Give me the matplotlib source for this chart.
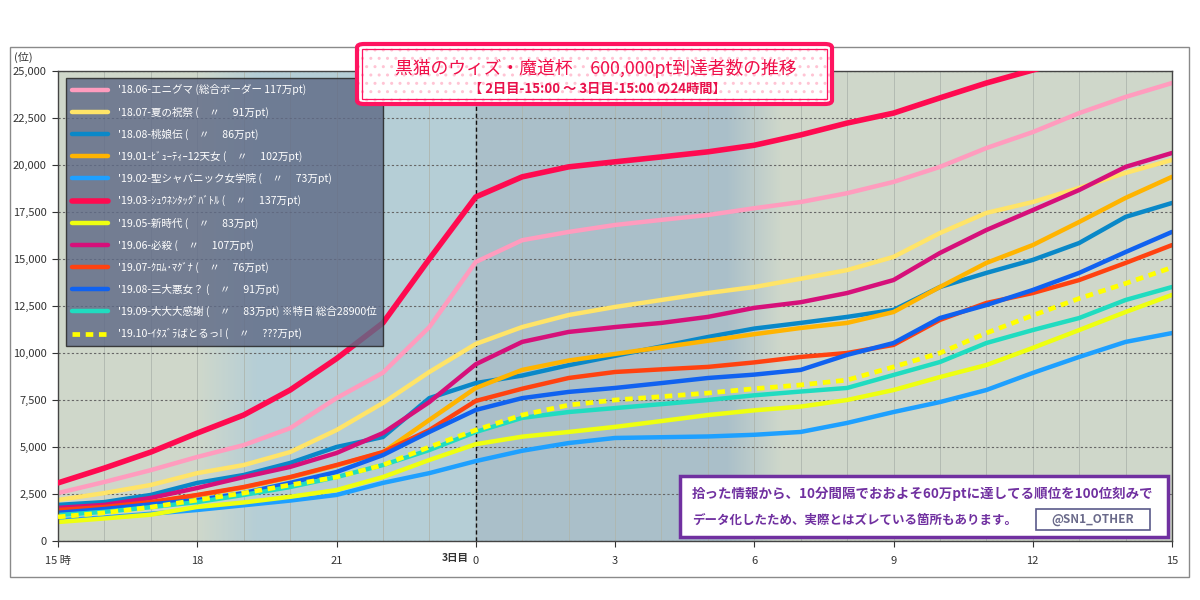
import numpy as np
import matplotlib.pyplot as plt
from matplotlib.patches import Rectangle, FancyBboxPatch
from matplotlib.ticker import MultipleLocator, FuncFormatter

plt.rcParams['font.family'] = ['Noto Sans CJK JP', 'DejaVu Sans']

# hours since 2日目 15:00
hours = list(range(25))
tick_hours = [0, 3, 6, 9, 12, 15, 18, 21, 24]
tick_labels = ['15 時', '18', '21', '0', '3', '6', '9', '12', '15']

labels = [
    "'18.06-エニグマ (総合ボーダー 117万pt)",
    "'18.07-夏の祝祭 (　〃　 91万pt)",
    "'18.08-桃娘伝 (　〃　 86万pt)",
    "'19.01-ﾋﾞｭｰﾃｨｰ12天女 (　〃　 102万pt)",
    "'19.02-聖シャバニック女学院 (　〃　 73万pt)",
    "'19.03-ｼｭｳﾈﾝﾀｯｸﾞﾊﾞﾄﾙ (　〃　 137万pt)",
    "'19.05-新時代 (　〃　 83万pt)",
    "'19.06-必殺 (　〃　 107万pt)",
    "'19.07-ｸﾛﾑ･ﾏｸﾞﾅ (　〃　 76万pt)",
    "'19.08-三大悪女？ (　〃　 91万pt)",
    "'19.09-大大大感謝 (　〃　 83万pt) ※特日 総合28900位",
    "'19.10-ｲﾀｽﾞﾗばとるっ! (　〃　 ???万pt)",
]
colors = ['#FF9CBE', '#FFE468', '#0A88C8', '#FFB400', '#1EA0FF', '#FF0A50',
          '#EEFF10', '#D6107A', '#FF4210', '#1062F0', '#20DCC0', '#FFFF00']

enigma = [2550, 3140, 3770, 4470, 5100, 6000, 7600, 8950, 11380, 14840, 16000, 16440, 16810,
          17080, 17340, 17700, 18030, 18500, 19100, 19900, 20900, 21750, 22760, 23620, 24360]
natsu = [2180, 2550, 2980, 3610, 4040, 4730, 5900, 7340, 8990, 10480, 11380, 12020, 12450,
         12820, 13190, 13510, 13950, 14410, 15110, 16380, 17450, 18030, 18780, 19580, 20270]
momo = [1920, 2070, 2450, 3090, 3510, 4150, 5000, 5530, 7600, 8400, 8800, 9350, 9850,
        10350, 10850, 11300, 11600, 11920, 12290, 13510, 14260, 14950, 15850, 17240, 17980]
beauty = [1600, 1750, 2050, 2430, 2850, 3380, 4020, 4720, 6440, 8140, 9100, 9600, 9950,
          10300, 10650, 11000, 11330, 11600, 12180, 13510, 14790, 15740, 16970, 18250, 19370]
seishaba = [1100, 1250, 1450, 1650, 1900, 2150, 2450, 3090, 3610, 4250, 4800, 5210, 5480,
            5520, 5560, 5650, 5800, 6280, 6860, 7390, 8030, 8940, 9790, 10590, 11060]
shunen = [3090, 3880, 4730, 5740, 6700, 8030, 9700, 11600, 15000, 18300, 19370, 19900, 20170,
          20430, 20700, 21050, 21600, 22230, 22760, 23570, 24360, 25050, 25700, 26300, 26800]
shinjidai = [1010, 1200, 1400, 1810, 2050, 2350, 2710, 3400, 4310, 5150, 5550, 5800, 6070,
             6380, 6700, 6950, 7150, 7500, 8030, 8720, 9360, 10270, 11220, 12180, 13090]
hissatsu = [1760, 1920, 2290, 2820, 3400, 3940, 4680, 5740, 7390, 9400, 10590, 11120, 11380,
            11600, 11920, 12400, 12700, 13190, 13880, 15320, 16540, 17600, 18670, 19900, 20640]
chrome = [1650, 1810, 2070, 2450, 2870, 3400, 4040, 4730, 5900, 7450, 8100, 8670, 8990,
          9130, 9260, 9500, 9790, 10000, 10430, 11760, 12660, 13190, 13880, 14790, 15740]
sandai = [1500, 1700, 1950, 2180, 2550, 3090, 3670, 4570, 5800, 6970, 7600, 7930, 8140,
          8400, 8670, 8850, 9100, 9900, 10530, 11860, 12550, 13350, 14260, 15370, 16440]
kansha = [1380, 1550, 1800, 2070, 2450, 2870, 3400, 4040, 4840, 5800, 6550, 6860, 7070,
          7280, 7500, 7750, 7950, 8140, 8830, 9520, 10530, 11220, 11860, 12820, 13510]
itazura = [1280, 1500, 1800, 2180, 2550, 2980, 3400, 4040, 5000, 5900, 6700, 7230, 7500,
           7680, 7870, 8100, 8300, 8560, 9260, 10000, 11060, 12000, 12900, 13700, 14550]

series = [enigma, natsu, momo, beauty, seishaba, shunen, shinjidai, hissatsu,
          chrome, sandai, kansha, itazura]

fig = plt.figure(figsize=(12, 6), dpi=100)
ax = fig.add_axes([58 / 1200, 59 / 600, 1114 / 1200, 470 / 600])

# background shading (day 2 evening / night band)
green = np.array([0.812, 0.847, 0.796])
blue1 = np.array([0.710, 0.808, 0.840])
blue2 = np.array([0.667, 0.750, 0.790])
hx = np.linspace(0, 24, 961)
bg = np.zeros((1, len(hx), 3))
for i, h in enumerate(hx):
    if h < 3.0:
        c = green
    elif h < 4.3:
        t = (h - 3.0) / 1.3
        c = green * (1 - t) + blue1 * t
    elif h < 9.0:
        c = blue1
    elif h < 14.4:
        c = blue2
    elif h < 15.6:
        t = (h - 14.4) / 1.2
        c = blue2 * (1 - t) + green * t
    else:
        c = green
    bg[0, i] = c
ax.imshow(bg, extent=[0, 24, 0, 25000], aspect='auto', zorder=0, interpolation='bilinear')

for i, (vals, lab, col) in enumerate(zip(series, labels, colors)):
    if i == 11:
        ax.plot(hours, vals, color=col, lw=3.4, ls=(0, (1.6, 1.2)), dash_capstyle='butt',
                label=lab, zorder=3)
    elif i == 5:
        ax.plot(hours, vals, color=col, lw=4.0, label=lab, zorder=3,
                solid_joinstyle='round', solid_capstyle='round')
    else:
        ax.plot(hours, vals, color=col, lw=3.2, label=lab, zorder=2.5,
                solid_joinstyle='round', solid_capstyle='round')

ax.axvline(9, color='#111111', lw=1.0, ls=(0, (3, 2)), zorder=2)

ax.set_xlim(0, 24)
ax.set_ylim(0, 25000)
ax.set_xticks(tick_hours)
ax.set_xticklabels(tick_labels)
ax.xaxis.set_minor_locator(MultipleLocator(1))
ax.set_yticks(range(0, 25001, 2500))
ax.yaxis.set_major_formatter(FuncFormatter(lambda v, p: f'{int(v):,}'))
ax.tick_params(axis='both', which='major', direction='out', length=4, width=0.8,
               labelsize=8, colors='#333333', pad=4)
ax.tick_params(axis='x', which='minor', length=0)
ax.tick_params(axis='x', which='major', pad=7)
ax.grid(axis='x', which='both', color='#AEB6AE', lw=0.6, ls='-')
ax.grid(axis='y', which='major', color='#666666', lw=0.8, ls=(0, (2, 2)))
for s in ax.spines.values():
    s.set_color('#444444')
    s.set_linewidth(1.0)

ax.annotate('3日目', xy=(9, 0), xycoords=('data', 'axes fraction'), xytext=(-5, -9),
            textcoords='offset points', ha='right', va='top', fontsize=7.5,
            fontweight='bold', color='#333333')
fig.text(14 / 1200, 1 - 57 / 600, '(位)', fontsize=8, color='#333333', va='center')

leg = ax.legend(loc='upper left', bbox_to_anchor=(66 / 1200, 1 - 78 / 600),
                bbox_transform=fig.transFigure, borderaxespad=0, fancybox=False,
                edgecolor='#222222', facecolor='#5F6A86', framealpha=0.82,
                labelcolor='white', fontsize=7.6, handlelength=3.4, handletextpad=0.9,
                labelspacing=1.05, borderpad=0.6)
leg.get_frame().set_linewidth(1.0)

# title box
tx0, ty0, tw, th = 357, 44, 475, 60
hatch_box = Rectangle((tx0 / 1200, 1 - (ty0 + th) / 600), tw / 1200, th / 600,
                      transform=fig.transFigure, facecolor='white', edgecolor='#FFC4D4',
                      hatch='..', lw=0, zorder=10)
fig.add_artist(hatch_box)
outer = FancyBboxPatch((tx0 / 1200, 1 - (ty0 + th) / 600), tw / 1200, th / 600,
                       boxstyle='round,pad=0,rounding_size=0.006', transform=fig.transFigure,
                       facecolor='none', edgecolor='#FF1460', lw=3, zorder=11)
fig.add_artist(outer)
inner = Rectangle(((tx0 + 5) / 1200, 1 - (ty0 + th - 5) / 600), (tw - 10) / 1200,
                  (th - 10) / 600, transform=fig.transFigure, facecolor='none',
                  edgecolor='#FF1460', lw=0.9, zorder=11)
fig.add_artist(inner)
fig.text(596 / 1200, 1 - 68 / 600, '黒猫のウィズ・魔道杯　600,000pt到達者数の推移',
         ha='center', va='center', fontsize=12.8, color='#F0104A', zorder=12)
fig.text(597 / 1200, 1 - 89 / 600, '【 2日目-15:00 ～ 3日目-15:00 の24時間】',
         ha='center', va='center', fontsize=9.5, fontweight='bold', color='#E8104A', zorder=12)

# note box
nx0, ny0, nw, nh = 680, 476, 488, 61
note = Rectangle((nx0 / 1200, 1 - (ny0 + nh) / 600), nw / 1200, nh / 600,
                 transform=fig.transFigure, facecolor='white', edgecolor='#7030A0',
                 lw=2.5, zorder=10)
fig.add_artist(note)
fig.text(692 / 1200, 1 - 494 / 600,
         '拾った情報から、10分間隔でおおよそ60万ptに達してる順位を100位刻みで',
         ha='left', va='center', fontsize=9.7, fontweight='bold', color='#7030A0', zorder=12)
fig.text(692 / 1200, 1 - 520 / 600,
         'データ化したため、実際とはズレている箇所もあります。',
         ha='left', va='center', fontsize=9.0, fontweight='bold', color='#7030A0', zorder=12)
sn = Rectangle((1036 / 1200, 1 - 530 / 600), 114 / 1200, 21 / 600,
               transform=fig.transFigure, facecolor='white', edgecolor='#5A5A8A',
               lw=1.2, zorder=11)
fig.add_artist(sn)
fig.text(1093 / 1200, 1 - 519.5 / 600, '@SN1_OTHER', ha='center', va='center',
         fontsize=8.5, fontweight='bold', color='#6A6A8A', zorder=12)

# outer frame
frame = Rectangle((10 / 1200, 1 - 577 / 600), 1179 / 1200, 530 / 600,
                  transform=fig.transFigure, fill=False, edgecolor='#8A8A8A', lw=1, zorder=1)
fig.add_artist(frame)

fig.savefig('out.png', dpi=100)
